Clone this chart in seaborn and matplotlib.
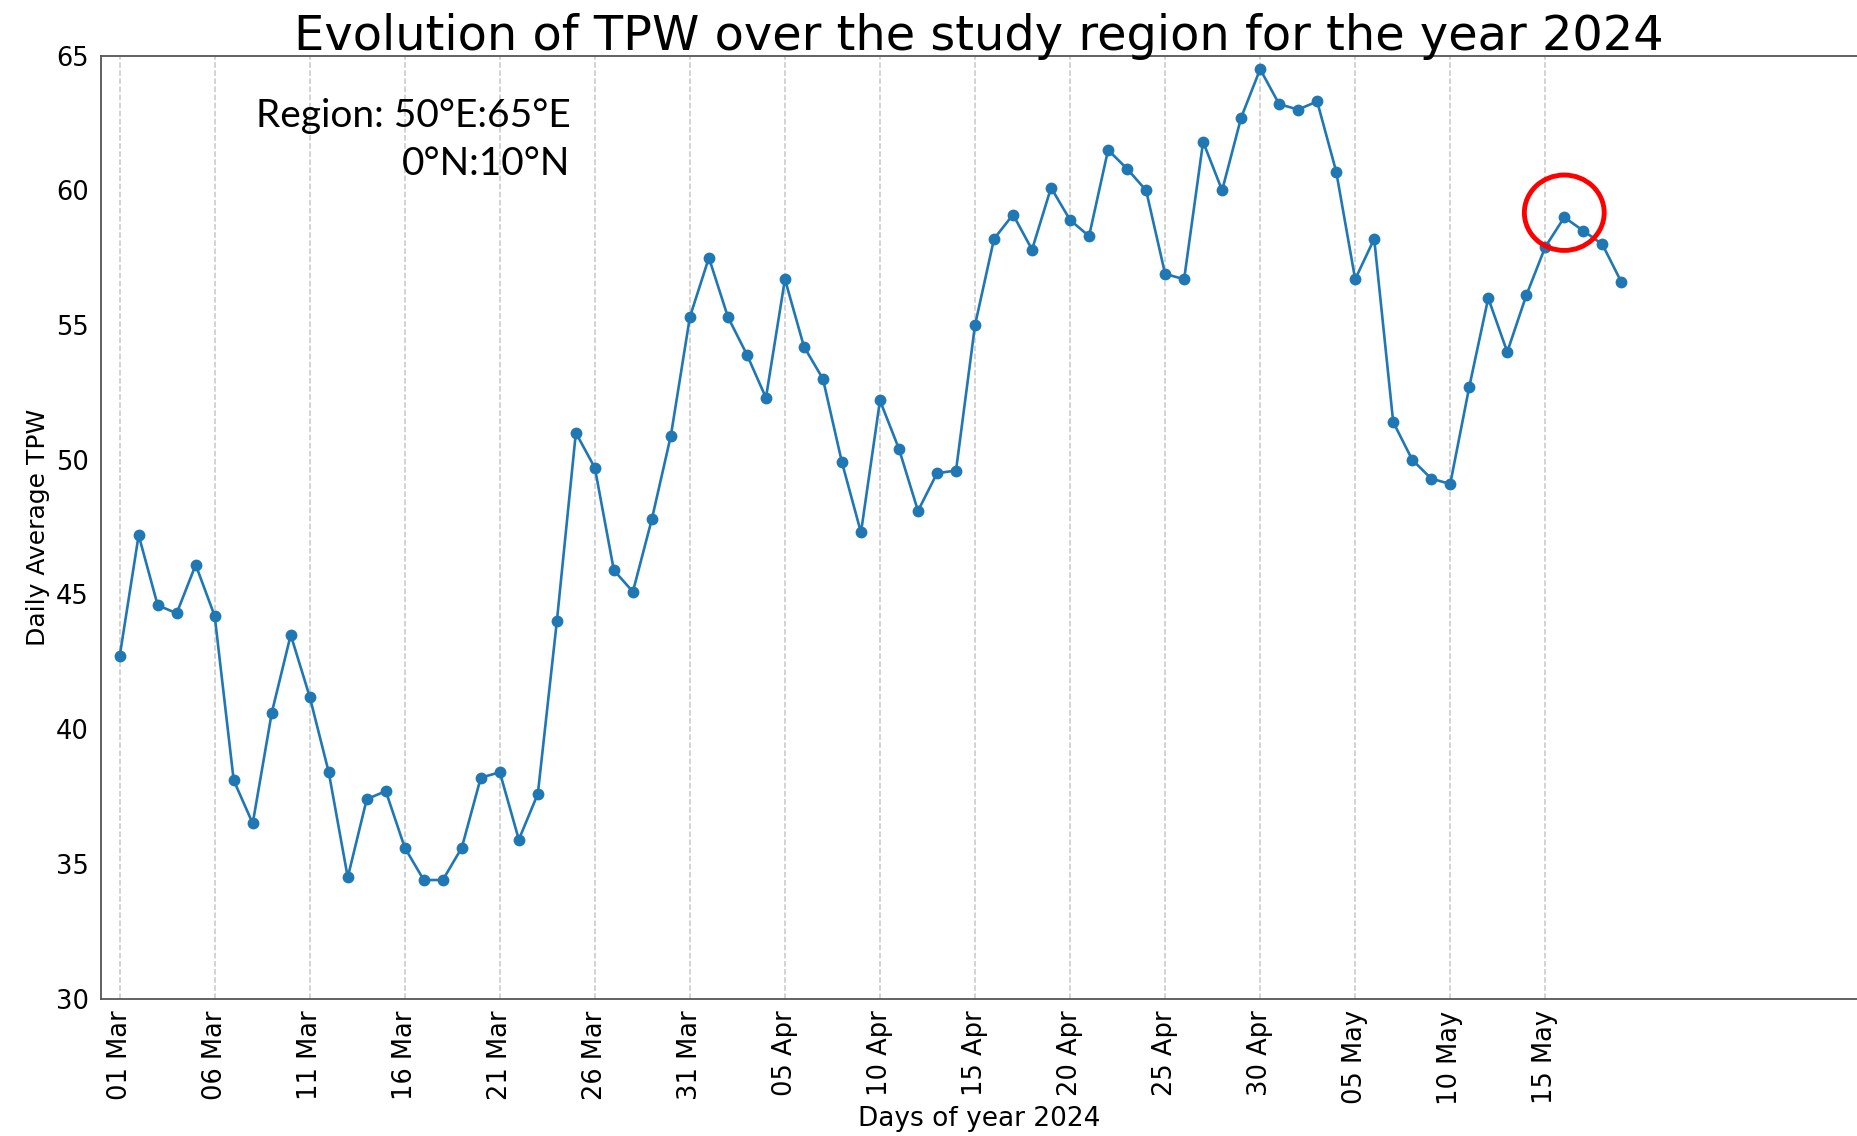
import numpy as np
import pandas as pd
import matplotlib
matplotlib.use("Agg")
import matplotlib.pyplot as plt
import matplotlib.dates as mdates
from matplotlib.patches import Ellipse
import seaborn as sns

# datos: TPW diario medio, 01 Mar - 19 May 2024
fecha_inicio = "2024-03-01"
tpw_marzo = [42.7, 47.2, 44.6, 44.3, 46.1, 44.2, 38.1, 36.5, 40.6, 43.5,
             41.2, 38.4, 34.5, 37.4, 37.7, 35.6, 34.4, 34.4, 35.6, 38.2,
             38.4, 35.9, 37.6, 44.0, 51.0, 49.7, 45.9, 45.1, 47.8, 50.9, 55.3]
tpw_abril = [57.5, 55.3, 53.9, 52.3, 56.7, 54.2, 53.0, 49.9, 47.3, 52.2,
             50.4, 48.1, 49.5, 49.6, 55.0, 58.2, 59.1, 57.8, 60.1, 58.9,
             58.3, 61.5, 60.8, 60.0, 56.9, 56.7, 61.8, 60.0, 62.7, 64.5]
tpw_mayo = [63.2, 63.0, 63.3, 60.7, 56.7, 58.2, 51.4, 50.0, 49.3, 49.1,
            52.7, 56.0, 54.0, 56.1, 57.9, 59.0, 58.5, 58.0, 56.6]

tpw = tpw_marzo + tpw_abril + tpw_mayo
fechas = pd.date_range(fecha_inicio, periods=len(tpw), freq="D")
df = pd.DataFrame({"fecha": fechas, "tpw": tpw})

# dia marcado con el circulo rojo
dia_marcado = "2024-05-16"

sns.set_style("white")
plt.rcParams["font.family"] = ["DejaVu Sans"]
plt.rcParams["text.color"] = "black"
plt.rcParams["axes.labelcolor"] = "black"
plt.rcParams["xtick.labelcolor"] = "black"
plt.rcParams["ytick.labelcolor"] = "black"

fig = plt.figure(figsize=(18.57, 11.36), dpi=100)
ax = fig.add_axes([0.0542, 0.121, 0.9458, 0.830])

sns.lineplot(data=df, x="fecha", y="tpw", ax=ax, color="#1f77b4",
             marker="o", markersize=8.5, markeredgewidth=0, linewidth=1.9)

# ejes
x0 = mdates.date2num(pd.Timestamp(fecha_inicio)) - 1.0
ax.set_xlim(x0, x0 + 92.4)
ax.set_ylim(30, 65)
ax.set_yticks(np.arange(30, 66, 5))
ticks = pd.date_range(fecha_inicio, "2024-05-15", freq="5D")
ax.set_xticks(ticks)
ax.xaxis.set_major_formatter(mdates.DateFormatter("%d %b"))
plt.setp(ax.get_xticklabels(), rotation=90)
ax.tick_params(axis="x", labelsize=18.5, length=5, color="#444444", labelcolor="black")
ax.tick_params(axis="y", labelsize=18.5, length=5, color="#444444", labelcolor="black")
ax.xaxis.grid(True, linestyle="--", color="#c8c8c8", linewidth=1.1)
ax.yaxis.grid(False)
for s in ax.spines.values():
    s.set_color("#555555")
    s.set_linewidth(1.3)
ax.spines["right"].set_visible(False)

ax.set_title("Evolution of TPW over the study region for the year 2024",
             fontsize=34.5, pad=4, color="black")
ax.set_xlabel("Days of year 2024", fontsize=19, labelpad=1)
ax.set_ylabel("Daily Average TPW", fontsize=18)

# texto de la region
ax.text(0.2675, 0.955, "Region: 50°E:65°E\n0°N:10°N", transform=ax.transAxes,
        ha="right", va="top", multialignment="right", fontsize=28,
        family=["Lato", "DejaVu Sans"], linespacing=1.4, color="black")

# circulo rojo
xm = mdates.date2num(pd.Timestamp(dia_marcado))
ax.add_patch(Ellipse((xm, 59.17), width=4.2, height=2.8, fill=False,
                     edgecolor="red", linewidth=3.5, zorder=5))

fig.savefig("out.png", dpi=100)
